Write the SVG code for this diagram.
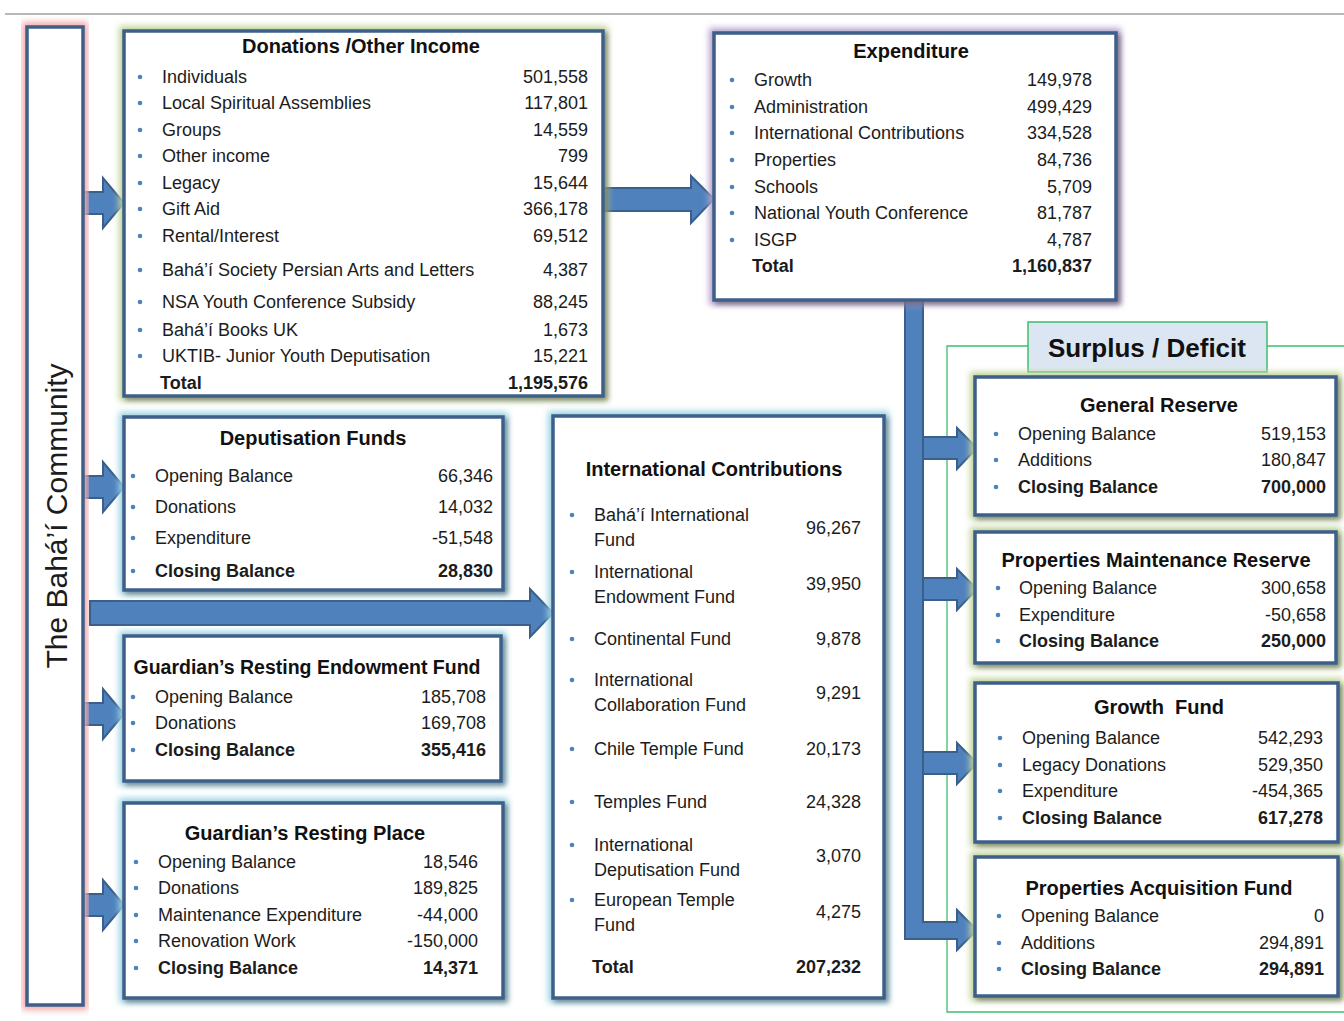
<svg xmlns="http://www.w3.org/2000/svg" width="1344" height="1021" viewBox="0 0 1344 1021">
<defs>
<filter id="blur" x="-10%" y="-10%" width="120%" height="120%"><feGaussianBlur stdDeviation="3"/></filter>
<filter id="shadow" x="-5%" y="-5%" width="115%" height="115%"><feDropShadow dx="3" dy="3" stdDeviation="2.5" flood-color="#000" flood-opacity="0.35"/></filter>
<style>
text{font-family:"Liberation Sans",Arial,sans-serif;fill:#1c1c1c;font-size:18px}
.t{font-weight:bold;font-size:20px;text-anchor:middle;fill:#111}
.b{font-weight:bold}
.r{text-anchor:end}
.box{fill:#fff;stroke:#3d5f8a;stroke-width:3.5;filter:url(#shadow)}
.gg{fill:none;stroke:#c3d69b;stroke-width:10;filter:url(#blur)}
.gp{fill:none;stroke:#b9a6cf;stroke-width:10;filter:url(#blur)}
.gc{fill:none;stroke:#9ed5e6;stroke-width:10;filter:url(#blur)}
.gr{fill:none;stroke:#f4a9a9;stroke-width:10;filter:url(#blur)}
.arr{fill:#4f81bd;stroke:#3a5f8b;stroke-width:2;stroke-linejoin:miter}
.dot{fill:#4f81bd}
</style>
</defs>
<rect width="1344" height="1021" fill="#fff"/>
<line x1="5" y1="14" x2="1344" y2="14" stroke="#b5b8bd" stroke-width="2"/>

<g id="surplus-frame">
<path d="M1028,346 H947 V1012 H1344 M1267,346 H1344" fill="none" stroke="#3dbf6e" stroke-width="1.3"/>
<rect x="1028" y="322" width="239" height="50" fill="#dce6f2" stroke="#3dbf6e" stroke-width="1.5"/>
<text x="1147" y="357" class="t" style="font-size:26px">Surplus / Deficit</text>
</g>

<g id="connectors">
<polygon class="arr" points="84,192 103,192 103,178 124,203 103,228 103,214 84,214"/>
<polygon class="arr" points="84,476 103,476 103,462 124,487 103,512 103,498 84,498"/>
<polygon class="arr" points="84,703 103,703 103,689 124,714 103,739 103,725 84,725"/>
<polygon class="arr" points="84,894 103,894 103,880 124,905 103,930 103,916 84,916"/>
<polygon class="arr" points="90,601 530,601 530,589 553,613 530,637 530,625 90,625"/>
<polygon class="arr" points="604,188 691,188 691,176 714,199 691,223 691,211 604,211"/>
<path class="arr" d="M905,301 H923 V922 H957 V910 L977,930 L957,950 V939 H905 Z"/>
<polygon class="arr" points="923,437 957,437 957,428 977,448 957,469 957,459 923,459"/>
<polygon class="arr" points="923,578 957,578 957,569 977,589 957,610 957,600 923,600"/>
<polygon class="arr" points="923,752 957,752 957,743 977,763 957,784 957,774 923,774"/>
</g>

<g id="community">
<rect class="gr" x="27" y="27" width="56" height="978"/>
<rect class="box" x="27" y="27" width="56" height="978" style="filter:none"/>
<text transform="translate(67,516) rotate(-90)" text-anchor="middle" style="font-size:30px">The Bahá’í Community</text>
</g>

<g id="donations">
<rect class="gg" x="124" y="31" width="479" height="365"/>
<rect class="box" x="124" y="31" width="479" height="365"/>
<text x="361" y="53" class="t">Donations /Other Income</text>
<g class="dot"><circle cx="140" cy="77" r="2.3"/><circle cx="140" cy="103" r="2.3"/><circle cx="140" cy="130" r="2.3"/><circle cx="140" cy="156" r="2.3"/><circle cx="140" cy="183" r="2.3"/><circle cx="140" cy="209" r="2.3"/><circle cx="140" cy="236" r="2.3"/><circle cx="140" cy="270" r="2.3"/><circle cx="140" cy="302" r="2.3"/><circle cx="140" cy="330" r="2.3"/><circle cx="140" cy="356" r="2.3"/></g>
<text x="162" y="83">Individuals</text><text x="588" y="83" class="r">501,558</text>
<text x="162" y="109">Local Spiritual Assemblies</text><text x="588" y="109" class="r">117,801</text>
<text x="162" y="136">Groups</text><text x="588" y="136" class="r">14,559</text>
<text x="162" y="162">Other income</text><text x="588" y="162" class="r">799</text>
<text x="162" y="189">Legacy</text><text x="588" y="189" class="r">15,644</text>
<text x="162" y="215">Gift Aid</text><text x="588" y="215" class="r">366,178</text>
<text x="162" y="242">Rental/Interest</text><text x="588" y="242" class="r">69,512</text>
<text x="162" y="276">Bahá’í Society Persian Arts and Letters</text><text x="588" y="276" class="r">4,387</text>
<text x="162" y="308">NSA Youth Conference Subsidy</text><text x="588" y="308" class="r">88,245</text>
<text x="162" y="336">Bahá’í Books UK</text><text x="588" y="336" class="r">1,673</text>
<text x="162" y="362">UKTIB- Junior Youth Deputisation</text><text x="588" y="362" class="r">15,221</text>
<text x="160" y="389" class="b">Total</text><text x="588" y="389" class="r b">1,195,576</text>
</g>

<g id="expenditure">
<rect class="gp" x="714" y="33" width="402" height="267"/>
<rect class="box" x="714" y="33" width="402" height="267"/>
<text x="911" y="58" class="t">Expenditure</text>
<g class="dot"><circle cx="732" cy="80" r="2.3"/><circle cx="732" cy="107" r="2.3"/><circle cx="732" cy="133" r="2.3"/><circle cx="732" cy="160" r="2.3"/><circle cx="732" cy="187" r="2.3"/><circle cx="732" cy="213" r="2.3"/><circle cx="732" cy="240" r="2.3"/></g>
<text x="754" y="86">Growth</text><text x="1092" y="86" class="r">149,978</text>
<text x="754" y="113">Administration</text><text x="1092" y="113" class="r">499,429</text>
<text x="754" y="139">International Contributions</text><text x="1092" y="139" class="r">334,528</text>
<text x="754" y="166">Properties</text><text x="1092" y="166" class="r">84,736</text>
<text x="754" y="193">Schools</text><text x="1092" y="193" class="r">5,709</text>
<text x="754" y="219">National Youth Conference</text><text x="1092" y="219" class="r">81,787</text>
<text x="754" y="246">ISGP</text><text x="1092" y="246" class="r">4,787</text>
<text x="752" y="272" class="b">Total</text><text x="1092" y="272" class="r b">1,160,837</text>
</g>

<g id="deputisation">
<rect class="gc" x="124" y="417" width="379" height="173"/>
<rect class="box" x="124" y="417" width="379" height="173"/>
<text x="313" y="445" class="t">Deputisation Funds</text>
<g class="dot"><circle cx="133" cy="476" r="2.3"/><circle cx="133" cy="507" r="2.3"/><circle cx="133" cy="538" r="2.3"/><circle cx="133" cy="571" r="2.3"/></g>
<text x="155" y="482">Opening Balance</text><text x="493" y="482" class="r">66,346</text>
<text x="155" y="513">Donations</text><text x="493" y="513" class="r">14,032</text>
<text x="155" y="544">Expenditure</text><text x="493" y="544" class="r">-51,548</text>
<text x="155" y="577" class="b">Closing Balance</text><text x="493" y="577" class="r b">28,830</text>
</g>

<g id="endowment">
<rect class="gc" x="124" y="636" width="377" height="145"/>
<rect class="box" x="124" y="636" width="377" height="145"/>
<text x="307" y="674" class="t" style="font-size:19.5px">Guardian’s Resting Endowment Fund</text>
<g class="dot"><circle cx="133" cy="697" r="2.3"/><circle cx="133" cy="723" r="2.3"/><circle cx="133" cy="750" r="2.3"/></g>
<text x="155" y="703">Opening Balance</text><text x="486" y="703" class="r">185,708</text>
<text x="155" y="729">Donations</text><text x="486" y="729" class="r">169,708</text>
<text x="155" y="756" class="b">Closing Balance</text><text x="486" y="756" class="r b">355,416</text>
</g>

<g id="resting-place">
<rect class="gc" x="124" y="803" width="379" height="195"/>
<rect class="box" x="124" y="803" width="379" height="195"/>
<text x="305" y="840" class="t">Guardian’s Resting Place</text>
<g class="dot"><circle cx="136" cy="862" r="2.3"/><circle cx="136" cy="888" r="2.3"/><circle cx="136" cy="915" r="2.3"/><circle cx="136" cy="941" r="2.3"/><circle cx="136" cy="968" r="2.3"/></g>
<text x="158" y="868">Opening Balance</text><text x="478" y="868" class="r">18,546</text>
<text x="158" y="894">Donations</text><text x="478" y="894" class="r">189,825</text>
<text x="158" y="921">Maintenance Expenditure</text><text x="478" y="921" class="r">-44,000</text>
<text x="158" y="947">Renovation Work</text><text x="478" y="947" class="r">-150,000</text>
<text x="158" y="974" class="b">Closing Balance</text><text x="478" y="974" class="r b">14,371</text>
</g>

<g id="international">
<rect class="gc" x="553" y="416" width="331" height="582"/>
<rect class="box" x="553" y="416" width="331" height="582"/>
<text x="714" y="476" class="t">International Contributions</text>
<g class="dot"><circle cx="572" cy="515" r="2.3"/><circle cx="572" cy="572" r="2.3"/><circle cx="572" cy="639" r="2.3"/><circle cx="572" cy="680" r="2.3"/><circle cx="572" cy="749" r="2.3"/><circle cx="572" cy="802" r="2.3"/><circle cx="572" cy="845" r="2.3"/><circle cx="572" cy="900" r="2.3"/></g>
<text x="594" y="521">Bahá’í International</text><text x="594" y="546">Fund</text><text x="861" y="534" class="r">96,267</text>
<text x="594" y="578">International</text><text x="594" y="603">Endowment Fund</text><text x="861" y="590" class="r">39,950</text>
<text x="594" y="645">Continental Fund</text><text x="861" y="645" class="r">9,878</text>
<text x="594" y="686">International</text><text x="594" y="711">Collaboration Fund</text><text x="861" y="699" class="r">9,291</text>
<text x="594" y="755">Chile Temple Fund</text><text x="861" y="755" class="r">20,173</text>
<text x="594" y="808">Temples Fund</text><text x="861" y="808" class="r">24,328</text>
<text x="594" y="851">International</text><text x="594" y="876">Deputisation Fund</text><text x="861" y="862" class="r">3,070</text>
<text x="594" y="906">European Temple</text><text x="594" y="931">Fund</text><text x="861" y="918" class="r">4,275</text>
<text x="592" y="973" class="b">Total</text><text x="861" y="973" class="r b">207,232</text>
</g>

<g id="general-reserve">
<rect class="gg" x="975" y="377" width="361" height="138"/>
<rect class="box" x="975" y="377" width="361" height="138"/>
<text x="1159" y="412" class="t">General Reserve</text>
<g class="dot"><circle cx="996" cy="434" r="2.3"/><circle cx="996" cy="460" r="2.3"/><circle cx="996" cy="487" r="2.3"/></g>
<text x="1018" y="440">Opening Balance</text><text x="1326" y="440" class="r">519,153</text>
<text x="1018" y="466">Additions</text><text x="1326" y="466" class="r">180,847</text>
<text x="1018" y="493" class="b">Closing Balance</text><text x="1326" y="493" class="r b">700,000</text>
</g>

<g id="maintenance-reserve">
<rect class="gg" x="975" y="532" width="361" height="131"/>
<rect class="box" x="975" y="532" width="361" height="131"/>
<text x="1156" y="567" class="t">Properties Maintenance Reserve</text>
<g class="dot"><circle cx="998" cy="588" r="2.3"/><circle cx="998" cy="615" r="2.3"/><circle cx="998" cy="641" r="2.3"/></g>
<text x="1019" y="594">Opening Balance</text><text x="1326" y="594" class="r">300,658</text>
<text x="1019" y="621">Expenditure</text><text x="1326" y="621" class="r">-50,658</text>
<text x="1019" y="647" class="b">Closing Balance</text><text x="1326" y="647" class="r b">250,000</text>
</g>

<g id="growth-fund">
<rect class="gg" x="975" y="683" width="363" height="159"/>
<rect class="box" x="975" y="683" width="363" height="159"/>
<text x="1159" y="714" class="t" xml:space="preserve">Growth  Fund</text>
<g class="dot"><circle cx="1000" cy="738" r="2.3"/><circle cx="1000" cy="765" r="2.3"/><circle cx="1000" cy="791" r="2.3"/><circle cx="1000" cy="818" r="2.3"/></g>
<text x="1022" y="744">Opening Balance</text><text x="1323" y="744" class="r">542,293</text>
<text x="1022" y="771">Legacy Donations</text><text x="1323" y="771" class="r">529,350</text>
<text x="1022" y="797">Expenditure</text><text x="1323" y="797" class="r">-454,365</text>
<text x="1022" y="824" class="b">Closing Balance</text><text x="1323" y="824" class="r b">617,278</text>
</g>

<g id="acquisition-fund">
<rect class="gg" x="975" y="857" width="363" height="139"/>
<rect class="box" x="975" y="857" width="363" height="139"/>
<text x="1159" y="895" class="t">Properties Acquisition Fund</text>
<g class="dot"><circle cx="999" cy="916" r="2.3"/><circle cx="999" cy="943" r="2.3"/><circle cx="999" cy="969" r="2.3"/></g>
<text x="1021" y="922">Opening Balance</text><text x="1324" y="922" class="r">0</text>
<text x="1021" y="949">Additions</text><text x="1324" y="949" class="r">294,891</text>
<text x="1021" y="975" class="b">Closing Balance</text><text x="1324" y="975" class="r b">294,891</text>
</g>
</svg>
